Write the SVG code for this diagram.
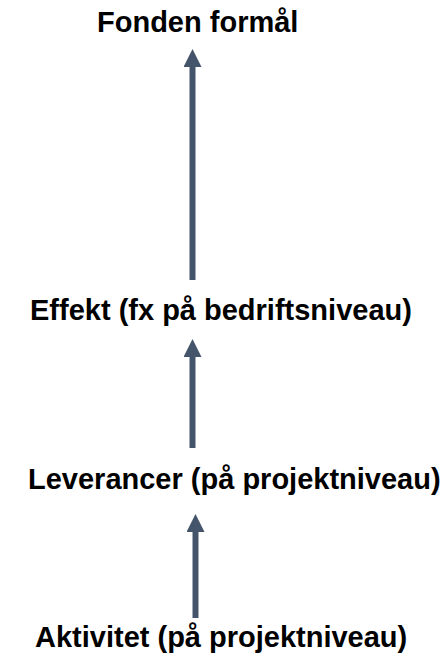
<svg xmlns="http://www.w3.org/2000/svg" width="447" height="656" viewBox="0 0 447 656">
  <style>
    .lbl { font-family: "Liberation Sans", Arial, sans-serif; font-weight: bold; font-size: 29px; fill: #000000; }
    .conn { stroke: #44546A; stroke-width: 6; fill: none; marker-end: url(#head); }
  </style>
  <defs>
    <marker id="head" viewBox="0 0 3 3" refX="0" refY="1.5" markerWidth="3" markerHeight="3" orient="auto" markerUnits="strokeWidth">
      <path d="M0,0 L3,1.5 L0,3 Z" fill="#44546A"/>
    </marker>
  </defs>
  <rect width="447" height="656" fill="#ffffff"/>
  <g id="connectors">
    <line class="conn" x1="192.5" y1="280" x2="192.5" y2="67"/>
    <line class="conn" x1="192.5" y1="448" x2="192.5" y2="357"/>
    <line class="conn" x1="195.5" y1="618" x2="195.5" y2="532"/>
  </g>
  <g id="node-fonden">
    <text class="lbl" x="97" y="32">Fonden formål</text>
  </g>
  <g id="node-effekt">
    <text class="lbl" x="30" y="320">Effekt (fx på bedriftsniveau)</text>
  </g>
  <g id="node-leverancer">
    <text class="lbl" x="28" y="489">Leverancer (på projektniveau)</text>
  </g>
  <g id="node-aktivitet">
    <text class="lbl" x="35" y="647">Aktivitet (på projektniveau)</text>
  </g>
</svg>
